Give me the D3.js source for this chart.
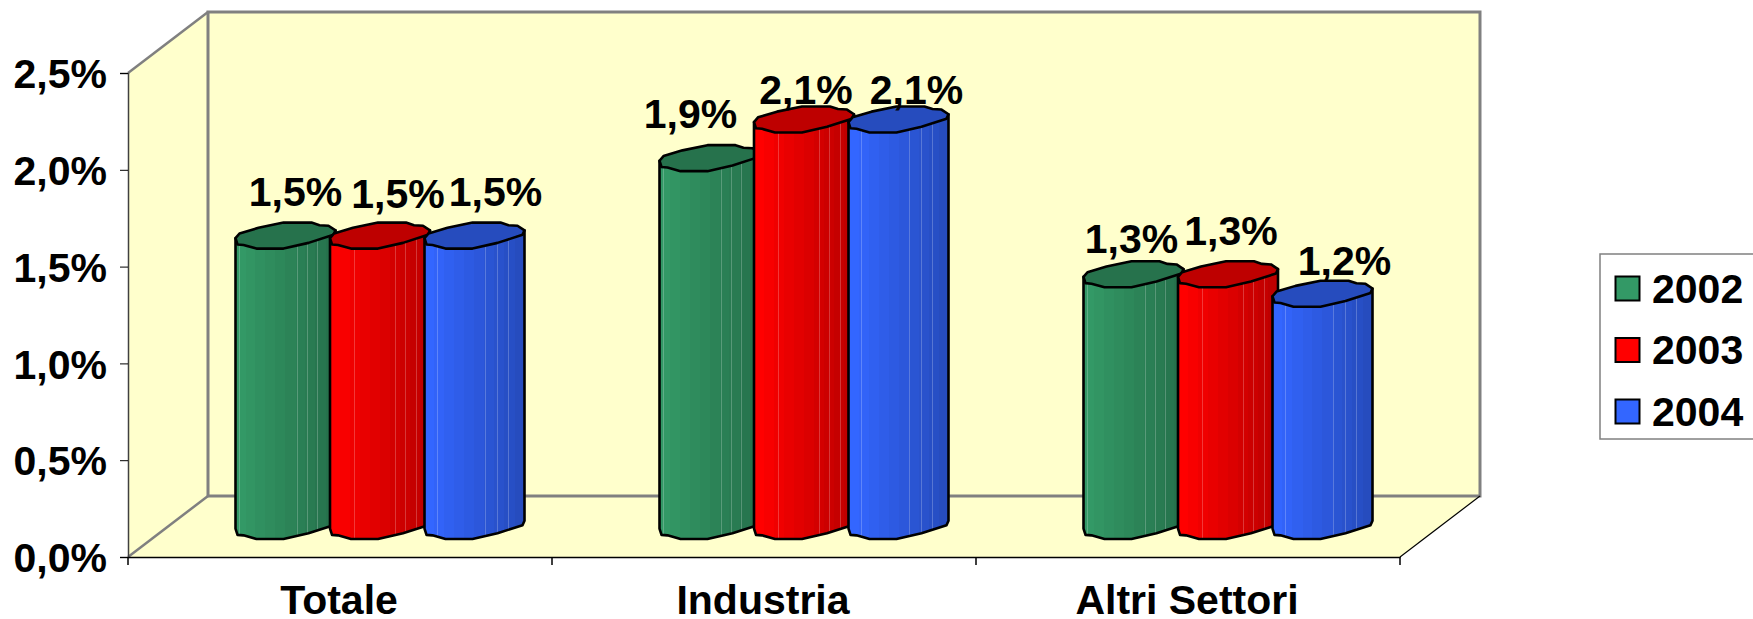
<!DOCTYPE html>
<html lang="en">
  <head>
    <meta charset="utf-8">
    <title>Totale, Industria, Altri Settori</title>
    <script src="https://cdnjs.cloudflare.com/ajax/libs/d3/7.9.0/d3.min.js"></script>
    <style>
      body { margin: 0; background: white; }
      svg { display: block; }
      text {
        font-family: "Liberation Sans", Arial, sans-serif;
        font-weight: bold;
        font-size: 41px;
        fill: black;
      }
    </style>
  </head>
  <body>
    <script>

        var categories = ["Totale", "Industria", "Altri Settori"];
        var years = ["2002", "2003", "2004"];
        var values2002 = [1.5, 1.9, 1.3];
        var values2003 = [1.5, 2.1, 1.3];
        var values2004 = [1.5, 2.1, 1.2];
        var yTicks = [0, 0.5, 1, 1.5, 2, 2.5];
        var barColors = ["#339966", "#ff0000", "#3366ff"];

        var w = 1753;
        var h = 619;

        // depth of the fake 3d box
        var depthX = 80;
        var depthY = 61;

        var yScale = d3.scaleLinear().domain([0, 2.5]).range([557, 73]);
        var xScale = d3.scaleBand().domain(categories).range([128, 1400]);
        var xYear = d3.scaleBand().domain(years).range([107.5, 391]);

        var barWidth = 100;
        var capHeight = 26;
        // the bars stand halfway into the box
        var barShift = -31;

        var x0 = xScale.range()[0], x1 = xScale.range()[1];
        var yBottom = yScale(0), yTop = yScale(2.5);

        var svg = d3.select("body").append("svg")
                    .attr("width", w)
                    .attr("height", h);

        // stepped gradient for the facets, with the thin light seams
        var defs = svg.append("defs");
        var seams = [[0.04, 0.62, 0.72, 0.82], [0.24, 0.65, 0.75, 0.86], [0.13, 0.61, 0.73, 0.84]];
        years.forEach(function(year, s) {
          var base = d3.color(barColors[s]);
          var dark = base.darker(0.83);
          var shade = d3.interpolateRgb(base, dark);
          var grad = defs.append("linearGradient").attr("id", "bar" + year);
          var steps = 10;
          var stops = [];
          d3.range(steps).forEach(function(i) {
            stops.push([i / steps, shade(i / (steps - 1))]);
            stops.push([(i + 1) / steps, shade(i / (steps - 1))]);
          });
          seams[s].forEach(function(p) {
            var c = shade(Math.floor(p * steps) / (steps - 1));
            var light = d3.interpolateRgb(c, "#ffffff")(0.22);
            stops.push([p - 0.0001, c], [p, light], [p + 0.006, light], [p + 0.0061, c]);
          });
          stops.sort(function(a, b) { return a[0] - b[0]; });
          grad.selectAll("stop").data(stops).enter().append("stop")
              .attr("offset", function(d) { return d[0]; })
              .attr("stop-color", function(d) { return d[1]; });
        });

        // walls and floor
        var wallFill = "#ffffcc";
        var corners = [
          [[x0 + depthX, yTop - depthY], [x1 + depthX, yTop - depthY], [x1 + depthX, yBottom - depthY], [x0 + depthX, yBottom - depthY]],
          [[x0, yTop], [x0 + depthX, yTop - depthY], [x0 + depthX, yBottom - depthY], [x0, yBottom]],
          [[x0, yBottom], [x0 + depthX, yBottom - depthY], [x1 + depthX, yBottom - depthY], [x1, yBottom]]
        ];
        svg.selectAll(".wall").data(corners).enter().append("path")
           .attr("class", "wall")
           .attr("d", function(d) { return d3.line()(d) + "Z"; })
           .attr("fill", wallFill);

        var line = d3.line();
        svg.append("path")
           .attr("d", line(corners[0]) + "Z")
           .attr("fill", "none")
           .attr("stroke", "#808080")
           .attr("stroke-width", 3);
        svg.append("path")
           .attr("d", line([corners[1][0], corners[1][1]]))
           .attr("stroke", "#808080")
           .attr("stroke-width", 2.5);
        svg.append("path")
           .attr("d", line([corners[1][3], corners[1][2]]))
           .attr("stroke", "#808080")
           .attr("stroke-width", 2.5);
        svg.append("path")
           .attr("d", line([corners[2][3], corners[2][2]]))
           .attr("stroke", "black")
           .attr("stroke-width", 1.2);

        // outline of the top of a bar, as fractions of its box
        var capShape = [
          [0, 0.6], [0.04, 0.42], [0.23, 0.2], [0.48, 0], [0.76, 0], [0.84, 0.1], [0.93, 0.12], [1, 0.3],
          [0.98, 0.47], [0.73, 0.78], [0.48, 1], [0.21, 1], [0.08, 0.86], [0.02, 0.84]
        ];
        var lowerEdge = capShape.slice(7).concat([capShape[0]]);

        var capLine = d3.line().curve(d3.curveLinearClosed);
        var edgeLine = d3.line();

        function place(pts, left, boxTop) {
          return pts.map(function(p) {
            return [left + p[0] * barWidth, boxTop + p[1] * capHeight];
          });
        }

        var allValues = [values2002, values2003, values2004];

        // draw left to right so each bar sits on top of the previous one
        categories.forEach(function(cat, c) {
          years.forEach(function(year, s) {
            var left = xScale(cat) + xYear(year);
            var topBox = yScale(allValues[s][c]) + barShift - capHeight / 2;
            var baseBox = yScale(0) + barShift - capHeight / 2;
            var g = svg.append("g").attr("class", "bar");

            var edge = edgeLine(place(lowerEdge, left, baseBox));
            var tl = place([capShape[0]], left, topBox)[0];
            var tr = place([capShape[7]], left, topBox)[0];
            g.append("path")
             .attr("d", "M" + tr + edge.replace(/^M/, "L") + "L" + tl + "Z")
             .attr("fill", "url(#bar" + year + ")")
             .attr("stroke", "black")
             .attr("stroke-width", 2.6)
             .attr("stroke-linejoin", "round");

            g.append("path")
             .attr("d", capLine(place(capShape, left, topBox)))
             .attr("fill", d3.color(barColors[s]).darker(0.83))
             .attr("stroke", "black")
             .attr("stroke-width", 2.6)
             .attr("stroke-linejoin", "round");
          });
        });

        // axes
        var yAxis = d3.axisLeft(yScale)
                      .tickValues(yTicks)
                      .tickSize(8)
                      .tickPadding(13)
                      .tickFormat(function(d) { return d3.format(".1f")(d).replace(".", ",") + "%"; });
        var yG = svg.append("g").attr("transform", "translate(" + x0 + ",0)").call(yAxis);
        yG.select(".domain").attr("stroke", "#404040").attr("stroke-width", 1.5);
        yG.selectAll("text").attr("dy", "0.36em").style("font-size", "41px").style("font-family", null);

        var xAxis = d3.axisBottom(xScale).tickSize(0).tickPadding(0);
        var xG = svg.append("g").attr("transform", "translate(0," + yBottom + ")").call(xAxis);
        xG.select(".domain").attr("stroke", "black").attr("stroke-width", 1.5);
        xG.selectAll("text")
          .attr("x", -1)
          .attr("y", 57).attr("dy", 0)
          .style("font-size", "41px").style("font-family", null);

        // category separators on the edges of the bands
        svg.selectAll(".sep").data(categories.map(function(c) { return xScale(c); }).concat([x1]))
           .enter().append("line")
           .attr("class", "sep")
           .attr("x1", function(d) { return d; })
           .attr("x2", function(d) { return d; })
           .attr("y1", yBottom)
           .attr("y2", yBottom + 8)
           .attr("stroke", "black")
           .attr("stroke-width", 1.5);

        // value labels: hand placed in the original, so nudged one by one
        var labelNudge = [
          [[10, -60.6], [18, -58.6], [21, -60.6]],
          [[-19, -61], [2, -46], [18, -46]],
          [[-2, -52], [3, -60], [22, -50]]
        ];
        categories.forEach(function(cat, c) {
          years.forEach(function(year, s) {
            var v = allValues[s][c];
            svg.append("text")
               .attr("class", "value-label")
               .attr("x", xScale(cat) + xYear(year) + barWidth / 2 + labelNudge[c][s][0])
               .attr("y", yScale(v) + labelNudge[c][s][1])
               .attr("text-anchor", "middle")
               .text(d3.format(".1f")(v).replace(".", ",") + "%");
          });
        });

        // legend
        var legendY = d3.scalePoint().domain(years).range([288.5, 411.5]);
        var legend = svg.append("g");
        legend.append("rect")
              .attr("x", 1600).attr("y", 254)
              .attr("width", 170).attr("height", 185)
              .attr("fill", "white")
              .attr("stroke", "#808080")
              .attr("stroke-width", 1.5);
        var items = legend.selectAll(".item").data(years).enter().append("g")
                          .attr("class", "item")
                          .attr("transform", function(d) { return "translate(0," + legendY(d) + ")"; });
        items.append("rect")
             .attr("x", 1615.5).attr("y", -12)
             .attr("width", 24).attr("height", 24)
             .attr("fill", function(d, i) { return barColors[i]; })
             .attr("stroke", "black")
             .attr("stroke-width", 2);
        items.append("text")
             .attr("x", 1652).attr("y", 14)
             .text(function(d) { return d; });

    </script>
  </body>
</html>
